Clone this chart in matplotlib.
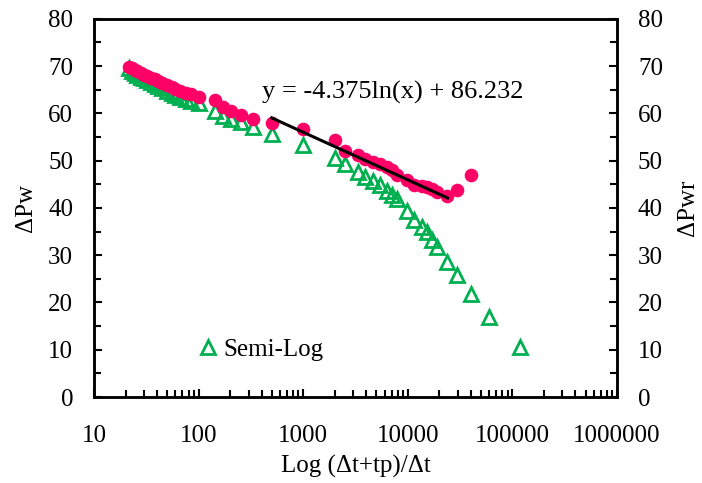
import numpy as np
import matplotlib
matplotlib.use("Agg")
import matplotlib.pyplot as plt
from matplotlib.ticker import LogLocator, MultipleLocator, FixedLocator

plt.rcParams['font.family'] = ['Liberation Serif', 'DejaVu Serif']

# horner time ratio (dt+tp)/dt
x_time = [21.5, 23, 24.5, 26, 28, 30, 32, 35, 38, 41, 45, 50, 55, 60, 67, 75, 84, 100,
          143, 171, 204, 254, 330, 500, 1000, 2014, 2512, 3345, 3900, 4650, 5420,
          6320, 7060, 7880, 9820, 11460, 13660, 15270, 17030, 19010, 23700, 29530,
          40180, 59700, 118300]

# Semi-Log (green triangles), all points
dp_semilog = [69.6, 69.0, 68.6, 68.2, 67.8, 67.4, 67.0, 66.6, 66.2, 65.7, 65.3, 64.8,
              64.3, 63.9, 63.5, 63.0, 62.6, 62.3,
              60.4, 59.4, 58.9, 58.2, 57.2, 55.6, 53.4, 50.6, 49.3, 47.6, 46.6, 45.8,
              44.8, 43.6, 42.8, 41.9, 39.4, 37.5, 36.0, 34.9, 33.2, 31.8, 28.6, 25.9,
              21.7, 16.9, 10.6]

# corrected pressure (pink circles), shares first x values
dp_corr = [69.8, 69.5, 69.2, 68.9, 68.6, 68.2, 67.9, 67.5, 67.2, 66.8, 66.4, 66.0,
           65.6, 65.2, 64.8, 64.4, 64.0, 63.5,
           62.9, 61.4, 60.5, 59.7, 58.8, 58.0, 56.6, 54.3, 52.0, 51.2, 50.3, 49.8,
           49.2, 48.7, 48.0, 47.0, 45.9, 44.9, 44.6, 44.4, 43.9, 43.3, 42.5, 43.7,
           47.0]

# log trendline shown on chart
trend_a, trend_b = -4.375, 86.232
trend_x = np.array([500, 24000])
trend_y = trend_a * np.log(trend_x) + trend_b

FS = 18

fig = plt.figure(figsize=(7.02, 4.83), dpi=100)
ax = fig.add_axes([0.134, 0.178, 0.745, 0.783])

ax.plot(x_time[:len(dp_corr)], dp_corr, 'o', color='#FF0066', markersize=9.8,
        markeredgewidth=0, zorder=3)
ax.plot(x_time, dp_semilog, '^', color='#00B050', markerfacecolor='none',
        markersize=10.2, markeredgewidth=2.0, label='Semi-Log', zorder=2)
ax.plot(trend_x, trend_y, '-', color='black', linewidth=2.2, zorder=4)

ax.set_xscale('log')
ax.set_xlim(10, 1e6)
ax.set_ylim(0, 80)
ax.xaxis.set_major_locator(FixedLocator([10, 100, 1000, 1e4, 1e5, 1e6]))
ax.set_xticklabels(['10', '100', '1000', '10000', '100000', '1000000'])
ax.xaxis.set_minor_locator(LogLocator(base=10, subs=np.arange(2, 10)))
ax.yaxis.set_major_locator(MultipleLocator(10))
ax.yaxis.set_minor_locator(MultipleLocator(5))

ax.tick_params(which='both', direction='in', labelsize=FS, width=1.5)
ax.tick_params(which='major', length=6)
ax.tick_params(which='minor', length=5)
ax.tick_params(axis='x', which='major', pad=20)
ax.tick_params(axis='y', which='major', pad=15)
for s in ax.spines.values():
    s.set_linewidth(1.8)

ax.set_xlabel('Log (Δt+tp)/Δt', fontsize=FS, labelpad=6)
ax.set_ylabel('ΔPw', fontsize=FS, labelpad=8)

ax2 = ax.twinx()
ax2.set_ylim(0, 80)
ax2.yaxis.set_major_locator(MultipleLocator(10))
ax2.yaxis.set_minor_locator(MultipleLocator(5))
ax2.tick_params(which='both', direction='in', labelsize=FS, width=1.5)
ax2.tick_params(which='major', length=6, pad=15)
ax2.tick_params(which='minor', length=5)
ax2.set_ylabel('ΔPwr', fontsize=FS, labelpad=10)
for s in ax2.spines.values():
    s.set_linewidth(1.8)

ax.text(404, 64.5, 'y = -4.375ln(x) + 86.232', fontsize=19, ha='left', va='center')

ax.legend(loc='center left', bbox_to_anchor=(0.18, 0.125), frameon=False,
          fontsize=FS, handlelength=0.8, handletextpad=0.2, borderaxespad=0)

fig.savefig('out.png', dpi=100)
